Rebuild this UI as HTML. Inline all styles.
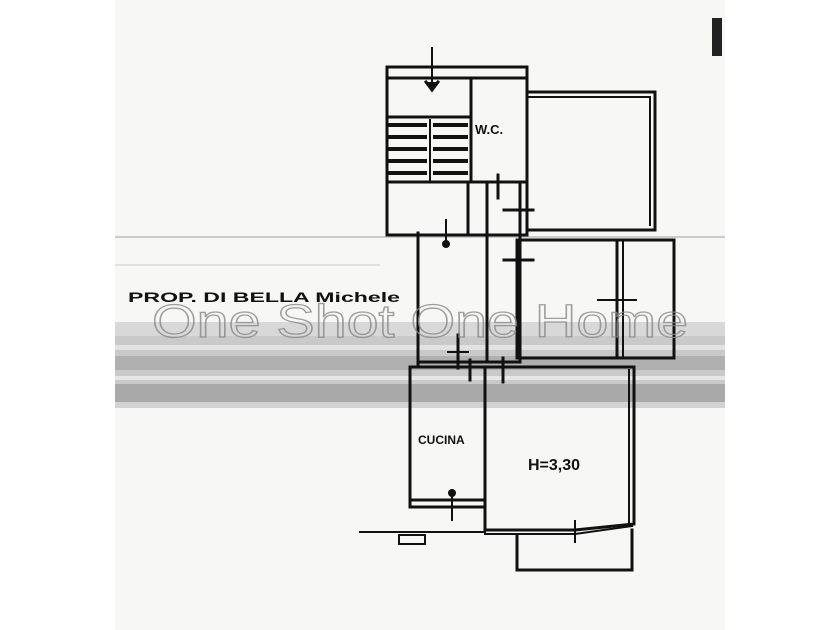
<!DOCTYPE html>
<html><head><meta charset="utf-8"><style>
html,body{margin:0;padding:0;background:#fff;}
svg{display:block}
</style></head><body>
<svg width="840" height="630" viewBox="0 0 840 630" xmlns="http://www.w3.org/2000/svg">
<rect x="0" y="0" width="840" height="630" fill="#fff"/>
<rect x="115" y="0" width="610" height="630" fill="#f7f7f6"/>
<rect x="115" y="322" width="610" height="86" fill="#c9c9c9"/>
<rect x="115" y="322" width="610" height="14" fill="#d8d8d8"/>
<rect x="115" y="345" width="610" height="5" fill="#e2e2e2"/>
<rect x="115" y="356" width="610" height="14" fill="#b0b0b0"/>
<rect x="115" y="376" width="610" height="4" fill="#e6e6e6"/>
<rect x="115" y="384" width="610" height="18" fill="#a9a9a9"/>
<rect x="115" y="402" width="610" height="6" fill="#d2d2d2"/>
<line x1="115" y1="237" x2="725" y2="237" stroke="#ccc" stroke-width="2"/>
<line x1="115" y1="265" x2="380" y2="265" stroke="#e0e0e0" stroke-width="2"/>
<g stroke="#111" fill="none" stroke-width="3" stroke-linecap="square">
<rect x="387" y="67" width="140" height="168"/>
<line x1="387" y1="78" x2="527" y2="78"/>
<line x1="471" y1="78" x2="471" y2="182"/>
<line x1="471" y1="182" x2="527" y2="182"/>
<line x1="387" y1="182" x2="468" y2="182"/>
<line x1="387" y1="117" x2="468" y2="117"/>
<line x1="430" y1="120" x2="430" y2="182" stroke-width="2"/>
<g stroke-width="4">
<line x1="390" y1="125" x2="425" y2="125"/><line x1="435" y1="125" x2="466" y2="125"/>
<line x1="390" y1="137" x2="425" y2="137"/><line x1="435" y1="137" x2="466" y2="137"/>
<line x1="390" y1="149" x2="425" y2="149"/><line x1="435" y1="149" x2="466" y2="149"/>
<line x1="390" y1="161" x2="425" y2="161"/><line x1="435" y1="161" x2="466" y2="161"/>
<line x1="390" y1="173" x2="425" y2="173"/><line x1="435" y1="173" x2="466" y2="173"/>
</g>
<line x1="468" y1="182" x2="468" y2="235"/>
<line x1="487" y1="185" x2="487" y2="362"/>
<line x1="432" y1="48" x2="432" y2="88" stroke-width="2"/>
<path d="M426 82 L432 90 L438 82" fill="#111"/>
<rect x="527" y="92" width="128" height="138"/>
<line x1="527" y1="97" x2="650" y2="97" stroke-width="2"/>
<line x1="650" y1="97" x2="650" y2="225" stroke-width="2"/>
<line x1="520" y1="182" x2="520" y2="362"/>
<line x1="504" y1="210" x2="533" y2="210"/>
<line x1="504" y1="260" x2="533" y2="260"/>
<line x1="498" y1="175" x2="498" y2="198"/>
<line x1="418" y1="233" x2="418" y2="365"/>
<line x1="446" y1="220" x2="446" y2="245" stroke-width="2"/>
<rect x="517" y="240" width="157" height="118"/>
<line x1="617" y1="240" x2="617" y2="358"/>
<line x1="623" y1="240" x2="623" y2="358" stroke-width="2"/>
<line x1="598" y1="300" x2="636" y2="300" stroke-width="2"/>
<line x1="418" y1="362" x2="520" y2="362"/>
<line x1="458" y1="335" x2="458" y2="368"/>
<line x1="448" y1="352" x2="468" y2="352" stroke-width="2"/>
<line x1="470" y1="360" x2="470" y2="380"/>
<line x1="503" y1="358" x2="503" y2="382"/>
<rect x="410" y="367" width="75" height="140"/>
<line x1="410" y1="500" x2="485" y2="500"/>
<line x1="452" y1="490" x2="452" y2="520" stroke-width="2"/>
<path d="M485 367 L634 367 L634 524 L575 530 L485 530 Z"/>
<line x1="485" y1="534" x2="575" y2="534" stroke-width="2"/>
<line x1="575" y1="534" x2="632" y2="526" stroke-width="2"/>
<line x1="629" y1="370" x2="629" y2="522" stroke-width="2"/>
<line x1="575" y1="521" x2="575" y2="542" stroke-width="2"/>
<path d="M517 536 L517 570 L632 570 L632 530" />
<line x1="360" y1="532" x2="485" y2="532" stroke-width="2"/>
<rect x="399" y="535" width="26" height="9" stroke-width="2"/>
</g>
<circle cx="446" cy="244" r="4" fill="#111"/>
<circle cx="452" cy="493" r="4" fill="#111"/>
<rect x="712" y="18" width="10" height="38" fill="#222"/>
<g font-family="Liberation Sans, sans-serif" font-weight="bold" fill="#111">
<text x="128" y="302" font-size="14" textLength="272" lengthAdjust="spacingAndGlyphs">PROP. DI BELLA Michele</text>
<text x="475" y="134" font-size="13">W.C.</text>
<text x="418" y="444" font-size="12">CUCINA</text>
<text x="528" y="470" font-size="16">H=3,30</text>
</g>
<text x="152" y="337" font-family="Liberation Sans, sans-serif" font-size="46" fill="none" stroke="#888" stroke-width="1.3" opacity="0.8" textLength="536" lengthAdjust="spacingAndGlyphs">One Shot One Home</text>
</svg>
</body></html>
